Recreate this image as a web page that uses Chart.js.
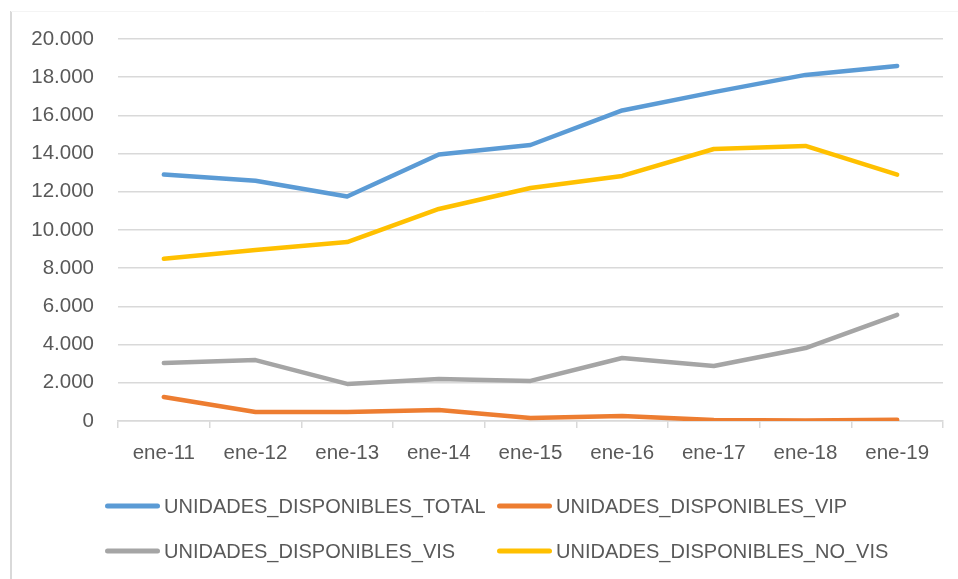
<!DOCTYPE html>
<html>
<head>
<meta charset="utf-8">
<script src="https://cdn.jsdelivr.net/npm/chart.js@4/dist/chart.umd.min.js"></script>
<style>
  html, body { margin: 0; padding: 0; background: #ffffff; }
  #wrap { position: relative; width: 958px; height: 579px; }
</style>
</head>
<body>
<div id="wrap"><canvas id="c" width="958" height="579"></canvas></div>
<script>
const categories = ['ene-11','ene-12','ene-13','ene-14','ene-15','ene-16','ene-17','ene-18','ene-19'];
const seriesNames = ['UNIDADES_DISPONIBLES_TOTAL','UNIDADES_DISPONIBLES_VIP','UNIDADES_DISPONIBLES_VIS','UNIDADES_DISPONIBLES_NO_VIS'];
const totalValues = [12900, 12580, 11750, 13950, 14450, 16260, 17220, 18120, 18590];
const vipValues   = [1260, 470, 470, 570, 160, 260, 50, 20, 60];
const visValues   = [3040, 3190, 1940, 2200, 2100, 3300, 2880, 3820, 5560];
const noVisValues = [8490, 8950, 9370, 11100, 12200, 12830, 14240, 14400, 12900];
const yTicks = [0, 2000, 4000, 6000, 8000, 10000, 12000, 14000, 16000, 18000, 20000];

const colors = ['#5B9BD5', '#ED7D31', '#A5A5A5', '#FFC000'];
const FONT = "'Liberation Sans', Arial, sans-serif";
const TXT = '#595959';

function fmt(v) {
  return String(v).replace(/\B(?=(\d{3})+(?!\d))/g, '.');
}

const legendPlugin = {
  id: 'customLegend',
  beforeDraw(chart) {
    const ctx = chart.ctx;
    ctx.save();
    ctx.strokeStyle = '#d9d9d9';
    ctx.lineWidth = 2;
    ctx.beginPath();
    ctx.moveTo(11, 11);
    ctx.lineTo(11, 579);
    ctx.stroke();
    ctx.strokeStyle = '#f4f4f4';
    ctx.lineWidth = 1;
    ctx.beginPath();
    ctx.moveTo(11, 11.5);
    ctx.lineTo(958, 11.5);
    ctx.stroke();
    ctx.restore();
  },
  afterDraw(chart) {
    const ctx = chart.ctx;
    const cols = [105, 497];
    const rows = [506, 551];
    ctx.save();
    chart.data.datasets.forEach((ds, i) => {
      const x = cols[i % 2];
      const y = rows[Math.floor(i / 2)];
      ctx.strokeStyle = ds.borderColor;
      ctx.lineWidth = 5;
      ctx.lineCap = 'round';
      ctx.beginPath();
      ctx.moveTo(x + 2.5, y);
      ctx.lineTo(x + 52.5, y);
      ctx.stroke();
      ctx.fillStyle = TXT;
      ctx.font = '20px ' + FONT;
      ctx.textAlign = 'left';
      ctx.textBaseline = 'middle';
      ctx.fillText(ds.label, x + 59, y + 1);
    });
    ctx.restore();
  }
};

const datasets = [totalValues, vipValues, visValues, noVisValues].map((vals, i) => ({
  label: seriesNames[i],
  data: vals,
  borderColor: colors[i],
  backgroundColor: colors[i],
  borderWidth: 4.5,
  borderCapStyle: 'round',
  borderJoinStyle: 'round',
  pointRadius: 0,
  pointHoverRadius: 0,
  tension: 0,
  fill: false,
  order: 4 - i
}));

new Chart(document.getElementById('c'), {
  type: 'line',
  data: { labels: categories, datasets },
  options: {
    responsive: false,
    devicePixelRatio: 1,
    animation: false,
    events: [],
    layout: { padding: { top: 39, right: 15, bottom: 0, left: 0 } },
    plugins: { legend: { display: false }, tooltip: { enabled: false } },
    scales: {
      x: {
        type: 'category',
        offset: true,
        grid: {
          offset: true,
          drawOnChartArea: false,
          drawTicks: true,
          tickLength: 7,
          color: '#d9d9d9',
          lineWidth: 1.5
        },
        border: { display: true, color: '#d9d9d9', width: 1.5 },
        ticks: {
          color: TXT,
          font: { family: FONT, size: 20.5 },
          padding: 13,
          maxRotation: 0,
          autoSkip: false
        },
        afterFit(scale) { scale.height = 158; }
      },
      y: {
        min: 0,
        max: 20000,
        afterBuildTicks(scale) { scale.ticks = yTicks.map(v => ({ value: v })); },
        grid: { color: '#d9d9d9', lineWidth: 1.5, drawTicks: false },
        border: { display: false },
        ticks: {
          color: TXT,
          font: { family: FONT, size: 20.5 },
          padding: 24,
          callback: (v) => fmt(v)
        },
        afterFit(scale) { scale.width = 118; }
      }
    }
  },
  plugins: [legendPlugin]
});
</script>
</body>
</html>
